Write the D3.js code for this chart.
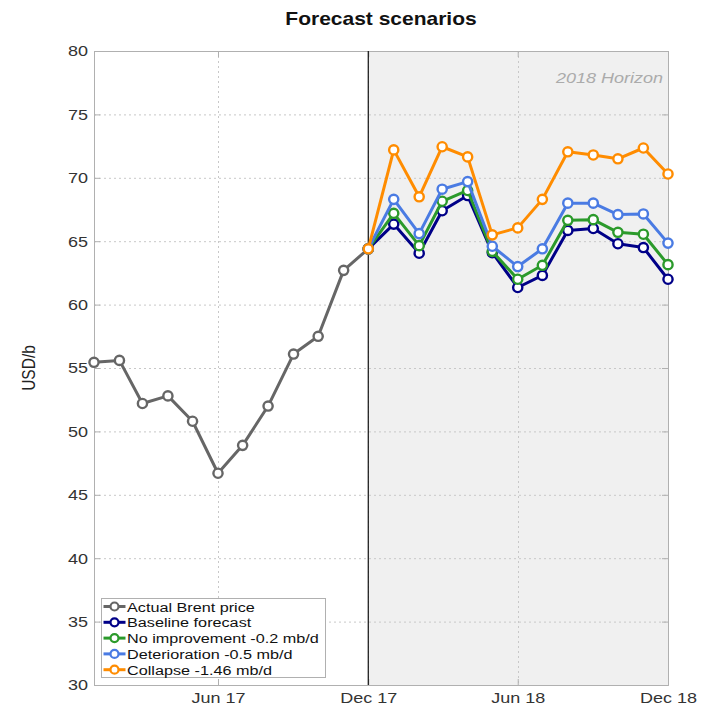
<!DOCTYPE html>
<html>
<head>
<meta charset="utf-8">
<script src="https://cdn.jsdelivr.net/npm/d3@7"></script>
<style>
  body { margin: 0; background: #fff; }
  svg { font-family: "Liberation Sans", Arial, sans-serif; }
</style>
</head>
<body>
<svg id="chart" width="706" height="705"></svg>
<script>
// monthly points, Jan 17 .. Dec 17
const actualMonths = ["2017-01", "2017-02", "2017-03", "2017-04", "2017-05", "2017-06",
    "2017-07", "2017-08", "2017-09", "2017-10", "2017-11", "2017-12"];
const actualPrice = [55.45, 55.6, 52.2, 52.8, 50.8, 46.7, 48.9, 52.0, 56.1, 57.5, 62.7, 64.4];

// forecasts start at Dec 17 and run to Dec 18
const forecastMonths = ["2017-12", "2018-01", "2018-02", "2018-03", "2018-04", "2018-05", "2018-06",
    "2018-07", "2018-08", "2018-09", "2018-10", "2018-11", "2018-12"];
const baseline = [64.4, 66.35, 64.05, 67.4, 68.6, 64.1, 61.35, 62.3, 65.85, 66.0, 64.8, 64.5, 62.0];
const noImprovement = [64.4, 67.2, 64.65, 68.15, 69.0, 64.2, 62.0, 63.1, 66.65, 66.7, 65.7, 65.55, 63.15];
const deterioration = [64.4, 68.3, 65.6, 69.1, 69.7, 64.6, 63.0, 64.4, 68.0, 68.0, 67.1, 67.15, 64.85];
const collapse = [64.4, 72.2, 68.5, 72.45, 71.65, 65.5, 66.05, 68.3, 72.05, 71.8, 71.5, 72.35, 70.3];

const seriesNames = ["Actual Brent price", "Baseline forecast", "No improvement -0.2 mb/d",
    "Deterioration -0.5 mb/d", "Collapse -1.46 mb/d"];
const seriesColors = ["#666666", "#000088", "#2b9a2b", "#4a7be3", "#ff8c00"];

const yTicks = [30, 35, 40, 45, 50, 55, 60, 65, 70, 75, 80];
const xTicks = ["2017-06", "2017-12", "2018-06", "2018-12"];
const horizonStart = "2017-12";

const parse = d3.timeParse("%Y-%m");
const fmt = d3.timeFormat("%b %y");

// the reference text is a bit wide, so stretch glyphs horizontally
const SX = 1.2;

const svg = d3.select("#chart");
const margin = { left: 94, right: 38, top: 51, bottom: 20 };
const W = 706, H = 705;
const plotBottom = 685;

const x = d3.scaleTime()
    .domain([parse("2017-01"), parse("2018-12")])
    .range([margin.left, W - margin.right]);
const y = d3.scaleLinear()
    .domain([30, 80])
    .range([plotBottom, margin.top]);

// shaded forecast horizon
svg.append("rect")
    .attr("x", x(parse(horizonStart)))
    .attr("y", y(80))
    .attr("width", x.range()[1] - x(parse(horizonStart)))
    .attr("height", y(30) - y(80))
    .attr("fill", "#f0f0f0");

// grid
const grid = svg.append("g").attr("stroke", "#c8c8c8").attr("stroke-dasharray", "2,3").attr("stroke-width", 1);
yTicks.slice(1, -1).forEach(v => {
    grid.append("line").attr("x1", x.range()[0]).attr("x2", x.range()[1])
        .attr("y1", y(v) + 0.5).attr("y2", y(v) + 0.5);
});
xTicks.slice(0, -1).forEach(m => {
    grid.append("line").attr("x1", Math.round(x(parse(m))) + 0.5).attr("x2", Math.round(x(parse(m))) + 0.5)
        .attr("y1", y(80)).attr("y2", y(30));
});

// axes (box style, ticks on all four sides)
const yAxisL = d3.axisLeft(y).tickValues(yTicks).tickSize(-6).tickPadding(6);
const yAxisR = d3.axisRight(y).tickValues(yTicks).tickSize(-6).tickFormat("");
const xAxisB = d3.axisBottom(x).tickValues(xTicks.map(parse)).tickSize(-6).tickPadding(7).tickFormat(fmt);
const xAxisT = d3.axisTop(x).tickValues(xTicks.map(parse)).tickSize(-6).tickFormat("");

const styleAxis = g => {
    g.select(".domain").attr("stroke", "#b0b0b0");
    g.selectAll(".tick line").attr("stroke", "#b0b0b0");
    g.selectAll(".tick text").attr("fill", "#333").attr("font-size", 15)
        .attr("font-family", "'Liberation Sans', Arial, sans-serif");
};
svg.append("g").attr("transform", `translate(${x.range()[0]},0)`).call(yAxisL).call(styleAxis)
    .selectAll(".tick text").attr("x", -6 / SX).attr("transform", `scale(${SX},1)`);
svg.append("g").attr("transform", `translate(${x.range()[1]},0)`).call(yAxisR).call(styleAxis);
svg.append("g").attr("transform", `translate(0,${plotBottom})`).call(xAxisB).call(styleAxis)
    .selectAll(".tick text").attr("transform", `scale(${SX},1)`);
svg.append("g").attr("transform", `translate(0,${margin.top})`).call(xAxisT).call(styleAxis);

// divider at Dec 17
svg.append("line")
    .attr("x1", x(parse(horizonStart))).attr("x2", x(parse(horizonStart)))
    .attr("y1", y(80)).attr("y2", y(30))
    .attr("stroke", "#111").attr("stroke-width", 1.2);

svg.append("text")
    .attr("transform", `translate(${x.range()[1] - 5},83) scale(${SX},1)`)
    .attr("text-anchor", "end")
    .attr("font-style", "italic")
    .attr("font-size", 15)
    .attr("fill", "#ababab")
    .text("2018 Horizon");

// series
const line = d3.line().x(d => x(d.date)).y(d => y(d.value));
const toPts = (months, vals) => vals.map((v, i) => ({ date: parse(months[i]), value: v }));

const allSeries = [
    toPts(actualMonths, actualPrice),
    toPts(forecastMonths, baseline),
    toPts(forecastMonths, noImprovement),
    toPts(forecastMonths, deterioration),
    toPts(forecastMonths, collapse)
];

allSeries.forEach((pts, i) => {
    const g = svg.append("g");
    g.append("path").datum(pts)
        .attr("d", line)
        .attr("fill", "none")
        .attr("stroke", seriesColors[i])
        .attr("stroke-width", 3)
        .attr("stroke-linejoin", "round");
    g.selectAll("circle").data(pts).join("circle")
        .attr("cx", d => x(d.date)).attr("cy", d => y(d.value))
        .attr("r", 4.6)
        .attr("fill", "#fff")
        .attr("stroke", seriesColors[i])
        .attr("stroke-width", 2.4);
});

// legend
const lg = svg.append("g").attr("transform", "translate(101.5,598.5)");
lg.append("rect").attr("width", 224).attr("height", 79)
    .attr("fill", "#fff").attr("stroke", "#b0b0b0").attr("stroke-width", 1);
seriesNames.forEach((name, i) => {
    const ly = 8 + i * 15.8;
    lg.append("line").attr("x1", 2).attr("x2", 24).attr("y1", ly).attr("y2", ly)
        .attr("stroke", seriesColors[i]).attr("stroke-width", 3);
    lg.append("circle").attr("cx", 13).attr("cy", ly).attr("r", 4)
        .attr("fill", "#fff").attr("stroke", seriesColors[i]).attr("stroke-width", 2.2);
    lg.append("text").attr("transform", `translate(25.5,${ly + 5}) scale(${SX},1)`)
        .attr("font-size", 13.5).attr("fill", "#111").text(name);
});

// title and y label
svg.append("text")
    .attr("transform", `translate(381,25) scale(${SX},1)`)
    .attr("text-anchor", "middle")
    .attr("font-weight", "bold")
    .attr("font-size", 17.5)
    .attr("fill", "#111")
    .text("Forecast scenarios");

svg.append("text")
    .attr("transform", `translate(35,${(y(30) + y(80)) / 2}) rotate(-90) scale(1,${SX})`)
    .attr("text-anchor", "middle")
    .attr("font-size", 15.5)
    .attr("fill", "#222")
    .text("USD/b");
</script>
</body>
</html>
